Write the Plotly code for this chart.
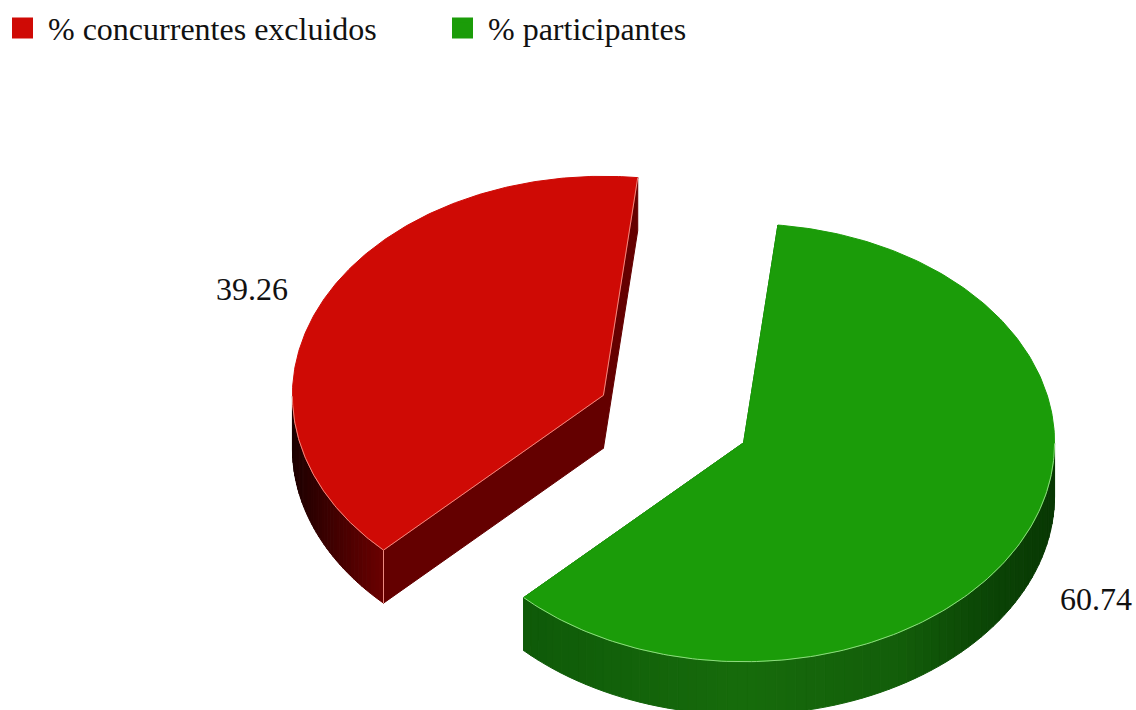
import numpy as np
import plotly.graph_objects as go

# Data
categories = ["% concurrentes excluidos", "% participantes"]
values = [39.26, 60.74]

# Pie styling
top_colors = ["#cf0a05", "#1b9c09"]
edge_colors = ["#ee8a80", "#8fdc80"]
cut_colors = ["#640000", "#0f5f08"]
# Wall shade ramps: (horizontal position across the ellipse, colour as rgb)
wall_ramps = [
    [(-1.0, (30, 0, 0)), (-0.88, (62, 0, 0)), (-0.72, (104, 0, 0))],
    [(-0.72, (15, 90, 9)), (0.0, (23, 108, 12)), (0.5, (19, 94, 10)),
     (0.8, (11, 68, 6)), (1.0, (9, 56, 4))],
]

CX, CY = 673.5, 419.0   # pie centre in page pixels
RX, RY = 311.0, 219.0   # ellipse radii of the top face
DEPTH = 53.0            # height of the extruded wall
EXPLODE = 0.25          # slice offset as a share of the radius
START_DEG = 225.0       # red slice opens here, clockwise; green follows
LABEL_REACH = 1.25
LABEL_SHIFT = [(-1, 15), (2, 41)]


def rim(cx, cy, t):
    return cx + RX * np.sin(t), cy - RY * np.cos(t)


def ramp_color(ramp, pos):
    xs = [r[0] for r in ramp]
    rgb = [np.interp(pos, xs, [r[1][k] for r in ramp]) for k in range(3)]
    return "rgb(%d,%d,%d)" % tuple(rgb)


def poly(fig, xs, ys, fill, line=None, width=1):
    fig.add_trace(go.Scatter(
        x=list(xs), y=list(ys), mode="lines", fill="toself", fillcolor=fill,
        line=dict(color=line or fill, width=width), showlegend=False, hoverinfo="skip",
    ))


fig = go.Figure()

total = sum(values)
angle = np.radians(START_DEG)
labels_x, labels_y = [], []
for i, v in enumerate(values):
    sweep = 2 * np.pi * v / total
    a0, a1 = angle, angle + sweep
    mid = (a0 + a1) / 2
    angle = a1
    cx = CX + EXPLODE * RX * np.sin(mid)
    cy = CY - EXPLODE * RY * np.cos(mid)

    # Flat cut walls, drawn behind the curved wall and the top face
    for a in (a1, a0):
        ex, ey = rim(cx, cy, a)
        poly(fig, [cx, ex, ex, cx, cx], [cy, ey, ey + DEPTH, cy + DEPTH, cy], cut_colors[i])

    # Curved outer wall: only the front half of the rim is visible
    t_all = np.linspace(a0, a1, 241)
    visible = np.cos(t_all) < 0
    t_vis = t_all[visible]
    for s in range(0, len(t_vis) - 1, 2):
        t = t_vis[s:s + 3]
        x, y = rim(cx, cy, t)
        pos = float(np.sin(t.mean()))
        poly(fig,
             list(x) + list(x[::-1]) + [x[0]],
             list(y) + list((y + DEPTH)[::-1]) + [y[0]],
             ramp_color(wall_ramps[i], pos))

    # Top face
    x, y = rim(cx, cy, t_all)
    poly(fig, [cx] + list(x) + [cx], [cy] + list(y) + [cy], top_colors[i], line=top_colors[i])

    # Light seam where the top face meets a visible wall
    xv, yv = rim(cx, cy, t_vis)
    if i == 0:
        xe, ye = rim(cx, cy, a0)
        xr, yr = rim(cx, cy, a1)
        seam_x = list(xv) + [None] + [xe, cx, xr] + [None, xe, xe]
        seam_y = list(yv) + [None] + [ye, cy, yr] + [None, ye, ye + DEPTH]
    else:
        seam_x, seam_y = list(xv), list(yv)
    fig.add_trace(go.Scatter(
        x=seam_x, y=seam_y, mode="lines", line=dict(color=edge_colors[i], width=1),
        showlegend=False, hoverinfo="skip",
    ))

    lx, ly = rim(cx, cy, mid)
    labels_x.append(cx + LABEL_REACH * (lx - cx) + LABEL_SHIFT[i][0])
    labels_y.append(cy + LABEL_REACH * (ly - cy) + LABEL_SHIFT[i][1])

# Value labels
fig.add_trace(go.Scatter(
    x=labels_x, y=labels_y, mode="text", text=[f"{v:.2f}" for v in values],
    textposition="middle center",
    textfont=dict(family="Liberation Serif", size=32, color="#111111"),
    showlegend=False, hoverinfo="skip",
))

# Legend entries
for name, color in zip(categories, top_colors):
    fig.add_trace(go.Scatter(
        x=[None], y=[None], mode="markers", name=name,
        marker=dict(symbol="square", size=16, color=color, line=dict(color=color, width=5)),
    ))

fig.update_layout(
    width=1136, height=710, margin=dict(l=0, r=0, t=0, b=0),
    paper_bgcolor="white", plot_bgcolor="white",
    xaxis=dict(range=[0, 1136], visible=False, fixedrange=True),
    yaxis=dict(range=[710, 0], visible=False, fixedrange=True),
    legend=dict(
        orientation="h", x=0, y=0.999, xanchor="left", yanchor="top",
        font=dict(family="Liberation Serif", size=32, color="#111111"),
        entrywidth=387, entrywidthmode="pixels", itemwidth=41, indentation=-3,
        bgcolor="rgba(0,0,0,0)", traceorder="normal",
    ),
)

fig.write_html("out.html", config=dict(displayModeBar=False))
